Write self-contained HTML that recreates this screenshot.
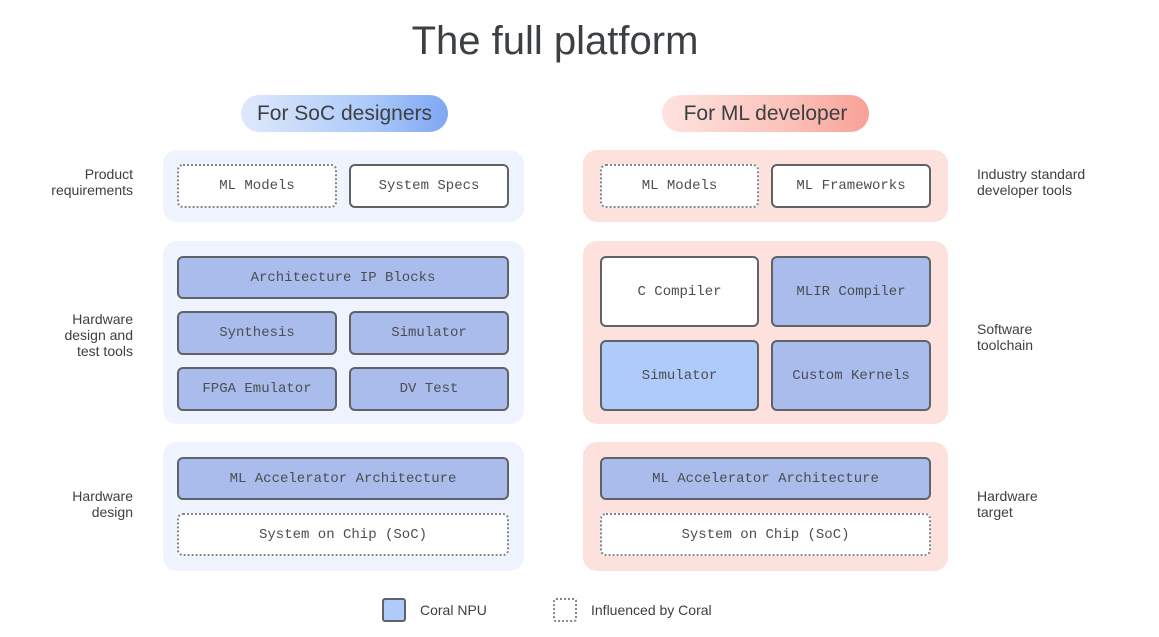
<!DOCTYPE html>
<html><head><meta charset="utf-8"><style>
*{box-sizing:border-box;margin:0;padding:0}
body{width:1159px;height:637px;background:#fff;position:relative;overflow:hidden;font-family:"Liberation Sans",sans-serif;color:#3c4043}
.a{position:absolute}
.t{position:absolute;left:0;width:1110px;top:19px;text-align:center;font-size:40px;color:#3c4043}
.pill{position:absolute;top:95px;height:37px;border-radius:19px;font-size:21px;display:flex;align-items:center;justify-content:center;color:#3c4043}
.pl{background:linear-gradient(90deg,#dfe9fb,#aecbfa 60%,#7fa8f2)}
.pr{background:linear-gradient(90deg,#fde3df,#fbc2ba 60%,#f8a197)}
.pan{position:absolute;border-radius:14px}
.L{background:#eef3fd;left:163px;width:361px}
.R{background:#fde1dd;left:583px;width:365px}
.b{position:absolute;border:2px solid #5f6368;border-radius:6px;display:flex;align-items:center;justify-content:center;font-family:"Liberation Mono",monospace;font-size:14px;color:#4a4e52;background:#fff}
.blue{background:#aabcec}
.lb{background:#aecbfa}
.dot{border:2px dotted #80868b;background:#fff}
.lab{position:absolute;font-size:14px;line-height:16px;color:#3c4043}
.ll{right:1026px;text-align:right}
.rl{left:977px}
</style></head><body>
<div class="t">The full platform</div>
<div class="pill pl" style="left:241px;width:207px">For SoC designers</div>
<div class="pill pr" style="left:662px;width:207px">For ML developer</div>

<div class="pan L" style="top:150px;height:72px"></div>
<div class="pan L" style="top:241px;height:183px"></div>
<div class="pan L" style="top:442px;height:129px"></div>
<div class="pan R" style="top:150px;height:72px"></div>
<div class="pan R" style="top:241px;height:183px"></div>
<div class="pan R" style="top:442px;height:129px"></div>

<div class="b dot" style="left:177px;top:164px;width:160px;height:44px">ML Models</div>
<div class="b" style="left:349px;top:164px;width:160px;height:44px">System Specs</div>
<div class="b blue" style="left:177px;top:256px;width:332px;height:43px">Architecture IP Blocks</div>
<div class="b blue" style="left:177px;top:311px;width:160px;height:44px">Synthesis</div>
<div class="b blue" style="left:349px;top:311px;width:160px;height:44px">Simulator</div>
<div class="b blue" style="left:177px;top:367px;width:160px;height:44px">FPGA Emulator</div>
<div class="b blue" style="left:349px;top:367px;width:160px;height:44px">DV Test</div>
<div class="b blue" style="left:177px;top:457px;width:332px;height:43px">ML Accelerator Architecture</div>
<div class="b dot" style="left:177px;top:513px;width:332px;height:43px">System on Chip (SoC)</div>

<div class="b dot" style="left:600px;top:164px;width:159px;height:44px">ML Models</div>
<div class="b" style="left:771px;top:164px;width:160px;height:44px">ML Frameworks</div>
<div class="b" style="left:600px;top:256px;width:159px;height:71px">C Compiler</div>
<div class="b blue" style="left:771px;top:256px;width:160px;height:71px">MLIR Compiler</div>
<div class="b lb" style="left:600px;top:340px;width:159px;height:71px">Simulator</div>
<div class="b blue" style="left:771px;top:340px;width:160px;height:71px">Custom Kernels</div>
<div class="b blue" style="left:600px;top:457px;width:331px;height:43px">ML Accelerator Architecture</div>
<div class="b dot" style="left:600px;top:513px;width:331px;height:43px">System on Chip (SoC)</div>

<div class="lab ll" style="top:166px">Product<br>requirements</div>
<div class="lab ll" style="top:311px">Hardware<br>design and<br>test tools</div>
<div class="lab ll" style="top:488px">Hardware<br>design</div>
<div class="lab rl" style="top:166px">Industry standard<br>developer tools</div>
<div class="lab rl" style="top:321px">Software<br>toolchain</div>
<div class="lab rl" style="top:488px">Hardware<br>target</div>

<div class="a" style="left:382px;top:598px;width:24px;height:24px;border:2px solid #5f6368;border-radius:3px;background:#aecbfa"></div>
<div class="lab" style="left:420px;top:602px">Coral NPU</div>
<div class="a" style="left:553px;top:598px;width:24px;height:24px;border:2px dotted #80868b;border-radius:3px"></div>
<div class="lab" style="left:591px;top:602px">Influenced by Coral</div>
</body></html>
